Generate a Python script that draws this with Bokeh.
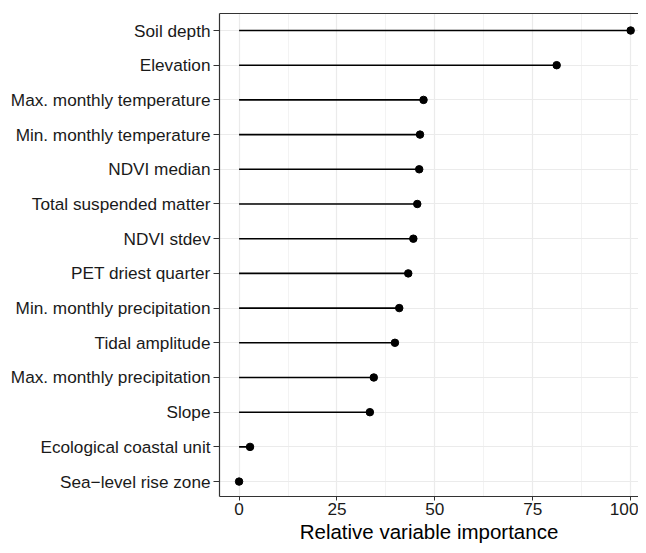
from bokeh.plotting import figure
from bokeh.models import FixedTicker, ColumnDataSource, LinearAxis
from bokeh.embed import file_html
from bokeh.resources import INLINE

variables = [
    "Soil depth", "Elevation", "Max. monthly temperature", "Min. monthly temperature",
    "NDVI median", "Total suspended matter", "NDVI stdev", "PET driest quarter",
    "Min. monthly precipitation", "Tidal amplitude", "Max. monthly precipitation",
    "Slope", "Ecological coastal unit", "Sea\u2212level rise zone",
]
importance = [100, 81.1, 47.1, 46.2, 46.0, 45.5, 44.5, 43.2, 40.9, 39.8, 34.4, 33.4, 2.8, 0]
x_ticks = [0, 25, 50, 75, 100]
x_minor = [-12.5, 12.5, 37.5, 62.5, 87.5]

n = len(variables)
ypos = [n - i for i in range(n)]
src = ColumnDataSource(dict(y=ypos, x=importance, x0=[0] * n, name=variables))

FONT = "Liberation Sans"
BORDER = "#333333"

p = figure(width=638, height=545, output_backend="svg", toolbar_location=None,
           x_range=(-5, 102.0), y_range=(0.57, n + 0.49),
           min_border_left=219, min_border_top=13, min_border_bottom=0, min_border_right=0)

p.segment(x0="x0", y0="y", x1="x", y1="y", source=src, line_color="black", line_width=1.6)
p.scatter(x="x", y="y", source=src, size=7.5, fill_color="black", line_color="black", line_width=1)

xax = p.below[0]
yax = p.left[0]

xax.ticker = FixedTicker(ticks=x_ticks, minor_ticks=x_minor)
yax.ticker = FixedTicker(ticks=ypos, minor_ticks=[])
yax.major_label_overrides = {y: name for y, name in zip(ypos, variables)}

for ax in (xax, yax):
    ax.axis_line_color = BORDER
    ax.axis_line_width = 1.2
    ax.major_tick_line_color = BORDER
    ax.major_tick_line_width = 1
    ax.major_tick_in = 0
    ax.minor_tick_line_color = None
    ax.major_label_text_font = FONT
    ax.major_label_text_font_size = "17.2px"
    ax.major_label_text_color = "#1a1a1a"

xax.major_tick_out = 4
yax.major_tick_out = 6
xax.major_label_standoff = 2
yax.major_label_standoff = 3
xax.axis_label = "Relative variable importance"
xax.axis_label_text_font = FONT
xax.axis_label_text_font_size = "20.5px"
xax.axis_label_text_font_style = "normal"
xax.axis_label_text_color = "black"
xax.axis_label_standoff = 2

top_axis = LinearAxis(ticker=FixedTicker(ticks=[], minor_ticks=[]), axis_line_color=BORDER,
                      axis_line_width=1.2, major_tick_line_color=None,
                      minor_tick_line_color=None, major_label_text_font_size="1px",
                      major_label_text_color=None)
p.add_layout(top_axis, "above")

p.xgrid.grid_line_color = "#EBEBEB"
p.xgrid.grid_line_width = 1.2
p.xgrid.minor_grid_line_color = "#EBEBEB"
p.xgrid.minor_grid_line_width = 0.6
p.ygrid.grid_line_color = "#EBEBEB"
p.ygrid.grid_line_width = 1.2

p.outline_line_color = None
p.background_fill_color = "white"
p.border_fill_color = "white"

open("out.html", "w").write(file_html(p, INLINE))
